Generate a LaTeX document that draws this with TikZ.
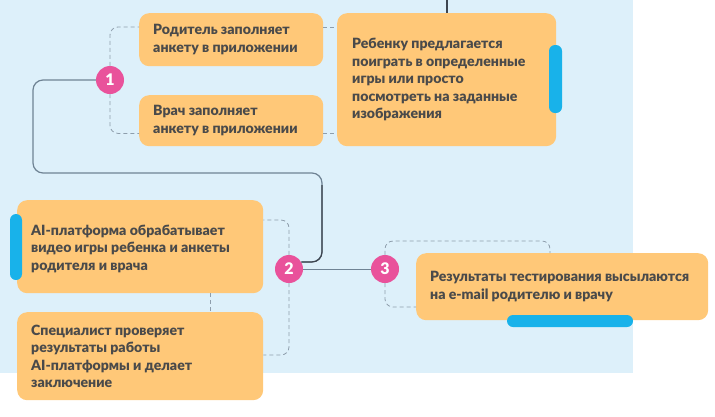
\documentclass[tikz,border=0pt]{standalone}
\usepackage{fontspec}
\setmainfont{Lato}[BoldFont={Lato Black}]
\usetikzlibrary{calc}
\definecolor{bgblue}{HTML}{DDF0FA}
\definecolor{boxor}{HTML}{FFC878}
\definecolor{pinkc}{HTML}{E9529B}
\definecolor{barblue}{HTML}{18B2EA}
\definecolor{txt}{HTML}{4A4A4A}
\definecolor{dgray}{HTML}{8E9EAC}
\definecolor{sgray}{HTML}{6F8394}
\definecolor{sdark}{HTML}{3E4650}
\begin{document}
\begin{tikzpicture}[x=1pt,y=-1pt,
  box/.style={fill=boxor, rounded corners=10pt, anchor=north west, inner sep=0pt},
  lbl/.style={anchor=west, align=left, inner sep=0pt, font=\bfseries\fontsize{14.1}{17.5}\selectfont, text=txt},
  num/.style={circle, fill=pinkc, text=white, minimum size=28pt, inner sep=0pt, font=\bfseries\fontsize{16}{16}\selectfont},
  dline/.style={draw=dgray, line width=0.8pt, dash pattern=on 4pt off 3pt, rounded corners=8pt},
  sline/.style={draw=sgray, line width=1.2pt, rounded corners=10pt},
  bar/.style={fill=barblue, rounded corners=6pt}]
\useasboundingbox (0,0) rectangle (715,416);
\fill[bgblue] (0,0) rectangle (633,373);

\node[box, minimum width=184pt, minimum height=53pt] (A) at (139,13) {};
\node[box, minimum width=184pt, minimum height=51pt] (B) at (139,95) {};
\node[box, minimum width=219pt, minimum height=133pt] (C) at (337,13) {};
\node[box, minimum width=246pt, minimum height=93pt] (D) at (17,200) {};
\node[box, minimum width=246pt, minimum height=88pt] (E) at (17,312) {};
\node[box, minimum width=292pt, minimum height=67pt] (F) at (416,253) {};

\node[lbl] (At) at ($(A.west)+(14,0)$) {Родитель заполняет\\анкету в приложении};
\node[lbl] (Bt) at ($(B.west)+(14,0)$) {Врач заполняет\\анкету в приложении};
\node[lbl] (Ct) at ($(C.west)+(15,0)$) {Ребенку предлагается\\поиграть в определенные\\игры или просто\\посмотреть на заданные\\изображения};
\node[lbl] (Dt) at ($(D.west)+(14,2)$) {AI-платформа обрабатывает\\видео игры ребенка и анкеты\\родителя и врача};
\node[lbl] (Et) at ($(E.west)+(14,0)$) {Специалист проверяет\\результаты работы\\AI-платформы и делает\\заключение};
\node[lbl] (Ft) at ($(F.west)+(14,0)$) {Результаты тестирования высылаются\\на e-mail родителю и врачу};

\node[num] (c1) at (110,80) {1};
\node[num] (c2) at (289,269) {2};
\node[num] (c3) at (385,269) {3};

\coordinate (a1) at ($(A.north west)+(0,14)$);
\coordinate (a2) at ($(A.north east)+(0,14)$);
\coordinate (b1) at ($(B.south west)+(0,-13)$);
\coordinate (b2) at ($(B.south east)+(0,-13)$);
\coordinate (d1) at ($(D.north east)+(0,20)$);
\coordinate (e1) at ($(E.north east)+(0,43)$);
\coordinate (f1) at ($(F.north west)+(134,-12)$);
\coordinate (f2) at ($(F.north west)+(0,54)$);
\coordinate (t) at (447,0);
\coordinate (k1) at (33,80);
\coordinate (k2) at (33,173);
\coordinate (k3) at (322,173);
\coordinate (k4) at (322,262);
\coordinate (k5) at (322,185);

\draw[dline] (c1.north) |- (a1);
\draw[dline] (c1.south) |- (b1);
\draw[dline] (a2) -- (a2 -| C.west);
\draw[dline] (b2) -- (b2 -| C.west);
\draw[dline] (c2.north) |- (d1);
\draw[dline] (c2.south) |- (e1);
\draw[dline] ($(D.south west)+(193,0)$) -- ($(E.north west)+(193,0)$);
\draw[dline] (c3.north) |- (f1) -- (f1 |- F.north);
\draw[dline] (c3.south) |- (f2);

\draw[sline] (c1.west) -- (k1) -- (k2) -- (k3) -- (k4) -- (c2.30);
\draw[sline, draw=sdark] (k5) -- (k4) -- (c2.30);
\draw[sline, line width=1pt] (c2.east) -- (c3.west);
\draw[sline, draw=sdark] (t) -- (t |- C.north);

\fill[bar] (549,45) rectangle (562,113);
\fill[bar] (10,214) rectangle (22,280);
\fill[bar] (507,315) rectangle (633,327);
\end{tikzpicture}
\end{document}
